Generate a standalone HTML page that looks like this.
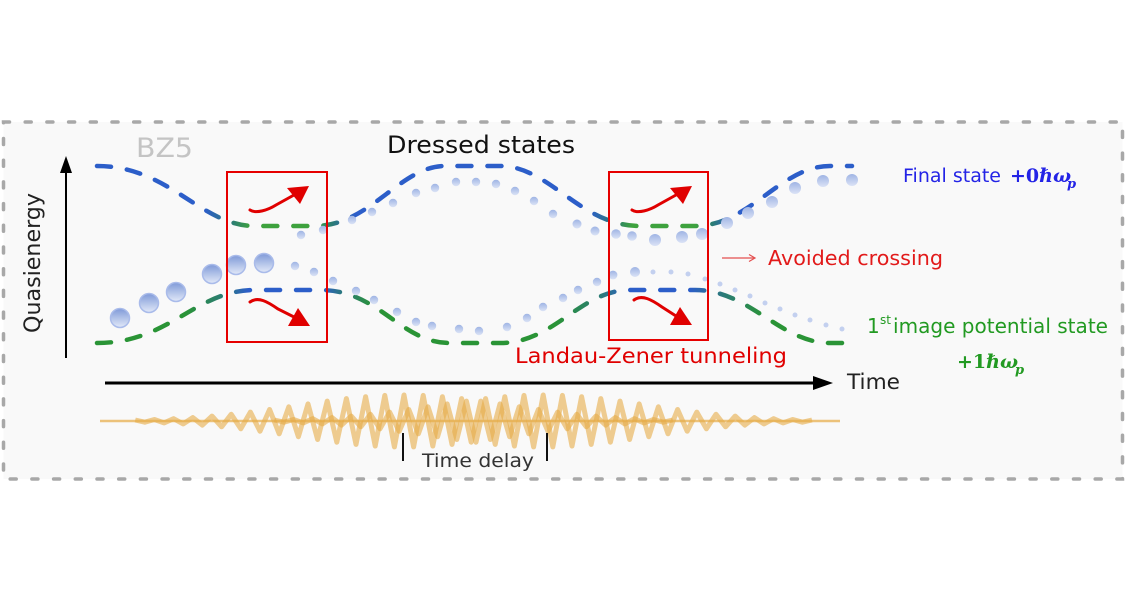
<!DOCTYPE html>
<html>
<head>
<meta charset="utf-8">
<style>
  html,body{margin:0;padding:0;background:#ffffff;}
  svg{display:block;}
  .sans{font-family:"DejaVu Sans","Liberation Sans",sans-serif;}
  .math{font-family:"DejaVu Serif","Liberation Serif",serif;}
</style>
</head>
<body>
<svg width="1125" height="600" viewBox="0 0 1125 600" xmlns="http://www.w3.org/2000/svg">
  <defs>
    <linearGradient id="gUp" gradientUnits="userSpaceOnUse" x1="97" y1="0" x2="852" y2="0">
      <stop offset="0" stop-color="#2c5ec9"/>
      <stop offset="0.143" stop-color="#2c5ec9"/>
      <stop offset="0.179" stop-color="#2b7c74"/>
      <stop offset="0.203" stop-color="#3ea23e"/>
      <stop offset="0.289" stop-color="#3ea23e"/>
      <stop offset="0.311" stop-color="#2b7c74"/>
      <stop offset="0.342" stop-color="#2c5ec9"/>
      <stop offset="0.653" stop-color="#2c5ec9"/>
      <stop offset="0.685" stop-color="#2b7c74"/>
      <stop offset="0.709" stop-color="#3ea23e"/>
      <stop offset="0.792" stop-color="#3ea23e"/>
      <stop offset="0.815" stop-color="#2b7c74"/>
      <stop offset="0.841" stop-color="#2c5ec9"/>
      <stop offset="1" stop-color="#2c5ec9"/>
    </linearGradient>
    <linearGradient id="gLo" gradientUnits="userSpaceOnUse" x1="97" y1="0" x2="852" y2="0">
      <stop offset="0" stop-color="#2a9436"/>
      <stop offset="0.117" stop-color="#2a9436"/>
      <stop offset="0.166" stop-color="#2b7c74"/>
      <stop offset="0.200" stop-color="#2c5ec9"/>
      <stop offset="0.298" stop-color="#2c5ec9"/>
      <stop offset="0.328" stop-color="#2b7c74"/>
      <stop offset="0.368" stop-color="#2a9436"/>
      <stop offset="0.607" stop-color="#2a9436"/>
      <stop offset="0.666" stop-color="#2b7c74"/>
      <stop offset="0.703" stop-color="#2c5ec9"/>
      <stop offset="0.785" stop-color="#2c5ec9"/>
      <stop offset="0.832" stop-color="#2b7c74"/>
      <stop offset="0.885" stop-color="#2a9436"/>
      <stop offset="1" stop-color="#2a9436"/>
    </linearGradient>
    <linearGradient id="sph" x1="0" y1="0" x2="0" y2="1">
      <stop offset="0" stop-color="#7f9ad8"/>
      <stop offset="1" stop-color="#e2e9f8"/>
    </linearGradient>
    <linearGradient id="sph2" x1="0" y1="0" x2="0" y2="1">
      <stop offset="0" stop-color="#9fb4e4"/>
      <stop offset="1" stop-color="#dbe3f6"/>
    </linearGradient>
  </defs>

  <!-- panel -->
  <rect x="3.5" y="122" width="1119" height="357" fill="#f9f9f9" stroke="#a8a8a8" stroke-width="3.5" stroke-dasharray="6 15.7" stroke-linecap="round"/>

  <!-- axes -->
  <line x1="66" y1="358" x2="66" y2="168" stroke="#000" stroke-width="2"/>
  <polygon points="66,156 60,173 72,173" fill="#000"/>
  <line x1="105" y1="383" x2="816" y2="383" stroke="#000" stroke-width="3"/>
  <polygon points="833,383 813,376 813,390" fill="#000"/>

  <!-- dashed curves -->
  <path d="M97,166 C170,166 200,226 255,226 L315,226 C370,226 400,166 445,166 L500,166 C550,166 580,226 640,226 L695,226 C750,226 780,166 830,166 L852,166"
        fill="none" stroke="url(#gUp)" stroke-width="4.5" stroke-dasharray="14 16" stroke-linecap="round"/>
  <path d="M97,343 C170,343 195,290 255,290 L320,290 C380,290 400,343 450,343 L500,343 C555,343 580,290 630,290 L695,290 C750,290 780,343 830,343 L850,343"
        fill="none" stroke="url(#gLo)" stroke-width="4.5" stroke-dasharray="14 16" stroke-linecap="round"/>

  <!-- large spheres -->
  <g fill="url(#sph)" stroke="#a9bbea" stroke-width="1.5">
    <circle cx="120" cy="318" r="9.5"/>
    <circle cx="149" cy="303" r="9.5"/>
    <circle cx="176" cy="292" r="9.5"/>
    <circle cx="212" cy="274" r="9.5"/>
    <circle cx="236" cy="265" r="9.5"/>
    <circle cx="264" cy="263" r="9.5"/>
  </g>
  <!-- upper dots -->
  <g fill="url(#sph2)">
    <circle cx="301" cy="235" r="4.2"/>
    <circle cx="323" cy="230" r="4.2"/>
    <circle cx="352" cy="220" r="4.2"/>
    <circle cx="372" cy="212" r="4.2"/>
    <circle cx="393" cy="203" r="4.2"/>
    <circle cx="416" cy="193" r="4.2"/>
    <circle cx="435" cy="188" r="4.2"/>
    <circle cx="456" cy="182" r="4.2"/>
    <circle cx="476" cy="182" r="4.2"/>
    <circle cx="496" cy="184" r="4.2"/>
    <circle cx="515" cy="191" r="4.2"/>
    <circle cx="534" cy="201" r="4.2"/>
    <circle cx="553" cy="214" r="4.2"/>
    <circle cx="577" cy="224" r="4.5"/>
    <circle cx="595" cy="231" r="4.5"/>
    <circle cx="616" cy="234" r="4.8"/>
    <circle cx="632" cy="236" r="4.8"/>
    <circle cx="655" cy="240" r="6"/>
    <circle cx="682" cy="237" r="6"/>
    <circle cx="702" cy="234" r="6"/>
    <circle cx="727" cy="223" r="6"/>
    <circle cx="748" cy="213" r="6"/>
    <circle cx="772" cy="202" r="6"/>
    <circle cx="795" cy="188" r="6"/>
    <circle cx="823" cy="181" r="6"/>
    <circle cx="852" cy="180" r="6"/>
  </g>
  <!-- lower dots -->
  <g fill="url(#sph2)">
    <circle cx="295" cy="266" r="4.2"/>
    <circle cx="314" cy="272" r="4.2"/>
    <circle cx="333" cy="281" r="4.2"/>
    <circle cx="356" cy="291" r="4.2"/>
    <circle cx="374" cy="300" r="4.2"/>
    <circle cx="397" cy="312" r="4.2"/>
    <circle cx="416" cy="322" r="4.2"/>
    <circle cx="432" cy="326" r="4.2"/>
    <circle cx="459" cy="329" r="4.2"/>
    <circle cx="479" cy="331" r="4.2"/>
    <circle cx="507" cy="327" r="4.2"/>
    <circle cx="527" cy="318" r="4.2"/>
    <circle cx="543" cy="307" r="4.2"/>
    <circle cx="563" cy="298" r="4.2"/>
    <circle cx="578" cy="290" r="4.2"/>
    <circle cx="597" cy="282" r="4.2"/>
    <circle cx="613" cy="275" r="4.4"/>
    <circle cx="635" cy="272" r="5"/>
  </g>
  <g fill="#c3d0ef">
    <circle cx="653" cy="272" r="2.5"/>
    <circle cx="671" cy="272" r="2.5"/>
    <circle cx="688" cy="274" r="2.5"/>
    <circle cx="705" cy="279" r="2.5"/>
    <circle cx="720" cy="284" r="2.5"/>
    <circle cx="735" cy="290" r="2.5"/>
    <circle cx="750" cy="296" r="2.5"/>
    <circle cx="765" cy="303" r="2.5"/>
    <circle cx="780" cy="309" r="2.5"/>
    <circle cx="795" cy="315" r="2.5"/>
    <circle cx="810" cy="320" r="2.5"/>
    <circle cx="826" cy="325" r="2.5"/>
    <circle cx="842" cy="329" r="2.5"/>
  </g>

  <!-- red boxes -->
  <rect x="227" y="172" width="100" height="170" fill="none" stroke="#e60000" stroke-width="2"/>
  <rect x="609" y="172" width="99" height="168" fill="none" stroke="#e60000" stroke-width="2"/>

  <!-- red arrows -->
  <g stroke="#e00000" stroke-width="3" fill="none" stroke-linecap="round">
    <path d="M250,210 C256,214 268,210 276,205 L294,195"/>
    <path d="M250,302 C258,296 268,302 278,309 L294,317"/>
    <path d="M632,210 C638,214 650,210 658,205 L676,195"/>
    <path d="M634,300 C642,294 652,300 662,307 L676,316"/>
  </g>
  <g fill="#e00000">
    <polygon points="309,186 287,188 300,204"/>
    <polygon points="310,326 288,326 298,308"/>
    <polygon points="692,186 670,188 683,204"/>
    <polygon points="692,325 670,325 680,307"/>
  </g>

  <!-- avoided crossing small arrow -->
  <line x1="722" y1="258" x2="754" y2="258" stroke="#e45050" stroke-width="1.2"/>
  <polyline points="749,254.5 755,258 749,261.5" fill="none" stroke="#e45050" stroke-width="1.2"/>

  <!-- wave packets -->
  <line x1="100" y1="421" x2="840" y2="421" stroke="#ecc27a" stroke-width="2.5"/>
  <g fill="none" stroke="#e6ac48" stroke-opacity="0.6" stroke-width="5" stroke-linejoin="round">
    <polyline points="135.2,420 144.8,422.2 154.4,419.5 164,422.9 173.6,418.7 183.2,423.9 192.8,417.6 202.4,425.1 212,416.1 221.6,426.8 231.2,414.3 240.8,428.8 250.4,412.1 260,431.2 269.6,409.5 279.2,433.8 288.8,406.8 298.4,436.7 308,403.9 317.6,439.5 327.2,401.1 336.8,442.2 346.4,398.6 356,444.4 365.6,396.7 375.2,446 384.8,395.4 394.4,446.9 404,395 413.6,446.9 423.2,395.4 432.8,446 442.4,396.7 452,444.4 461.6,398.6 471.2,442.2 480.8,401.1 490.4,439.5 500,403.9 509.6,436.7 519.2,406.8 528.8,433.8 538.4,409.5 548,431.2 557.6,412.1 567.2,428.8 576.8,414.3 586.4,426.8 596,416.1 605.6,425.1 615.2,417.6 624.8,423.9 634.4,418.7 644,422.9 653.6,419.5 663.2,422.2 672.8,420"/>
    <polyline points="274.4,420 284,422.2 293.6,419.5 303.2,422.9 312.8,418.7 322.4,423.9 332,417.6 341.6,425.1 351.2,416.1 360.8,426.8 370.4,414.3 380,428.8 389.6,412.1 399.2,431.2 408.8,409.5 418.4,433.8 428,406.8 437.6,436.7 447.2,403.9 456.8,439.5 466.4,401.1 476,442.2 485.6,398.6 495.2,444.4 504.8,396.7 514.4,446 524,395.4 533.6,446.9 543.2,395 552.8,446.9 562.4,395.4 572,446 581.6,396.7 591.2,444.4 600.8,398.6 610.4,442.2 620,401.1 629.6,439.5 639.2,403.9 648.8,436.7 658.4,406.8 668,433.8 677.6,409.5 687.2,431.2 696.8,412.1 706.4,428.8 716,414.3 725.6,426.8 735.2,416.1 744.8,425.1 754.4,417.6 764,423.9 773.6,418.7 783.2,422.9 792.8,419.5 802.4,422.2 812,420"/>
  </g>
  <line x1="403" y1="433" x2="403" y2="461" stroke="#111" stroke-width="2"/>
  <line x1="547" y1="433" x2="547" y2="461" stroke="#111" stroke-width="2"/>

  <!-- text -->
  <text class="sans" x="136" y="157" font-size="27" fill="#c4c4c4" textLength="57" lengthAdjust="spacingAndGlyphs">BZ5</text>
  <text class="sans" x="387" y="153" font-size="24" fill="#111" textLength="188" lengthAdjust="spacingAndGlyphs">Dressed states</text>
  <text class="sans" transform="translate(40,263) rotate(-90)" text-anchor="middle" font-size="22" fill="#222" textLength="140" lengthAdjust="spacingAndGlyphs">Quasienergy</text>

  <text class="sans" x="903" y="182" font-size="18.5" fill="#2323e6" textLength="98" lengthAdjust="spacingAndGlyphs">Final state</text>
  <text class="math" x="1010" y="182" font-size="19" fill="#2323e6" font-weight="bold">+0<tspan font-style="italic">ℏω</tspan></text>
  <text class="math" x="1067" y="188" font-size="13" fill="#2323e6" font-weight="bold" font-style="italic">p</text>

  <text class="sans" x="768" y="265" font-size="20" fill="#e21a1a" textLength="175" lengthAdjust="spacingAndGlyphs">Avoided crossing</text>
  <text class="sans" x="515" y="363" font-size="21.5" fill="#e00000" textLength="272" lengthAdjust="spacingAndGlyphs">Landau-Zener tunneling</text>

  <text class="sans" x="867" y="333" font-size="20" fill="#229a22">1</text>
  <text class="sans" x="880" y="324" font-size="12" fill="#229a22">st</text>
  <text class="sans" x="893" y="333" font-size="20" fill="#229a22" textLength="215" lengthAdjust="spacingAndGlyphs">image potential state</text>
  <text class="math" x="957" y="368" font-size="19" fill="#229a22" font-weight="bold">+1<tspan font-style="italic">ℏω</tspan></text>
  <text class="math" x="1015" y="374" font-size="13" fill="#229a22" font-weight="bold" font-style="italic">p</text>

  <text class="sans" x="847" y="389" font-size="21" fill="#222" textLength="53" lengthAdjust="spacingAndGlyphs">Time</text>
  <text class="sans" x="422" y="467" font-size="19" fill="#333" textLength="112" lengthAdjust="spacingAndGlyphs">Time delay</text>
</svg>
</body>
</html>
